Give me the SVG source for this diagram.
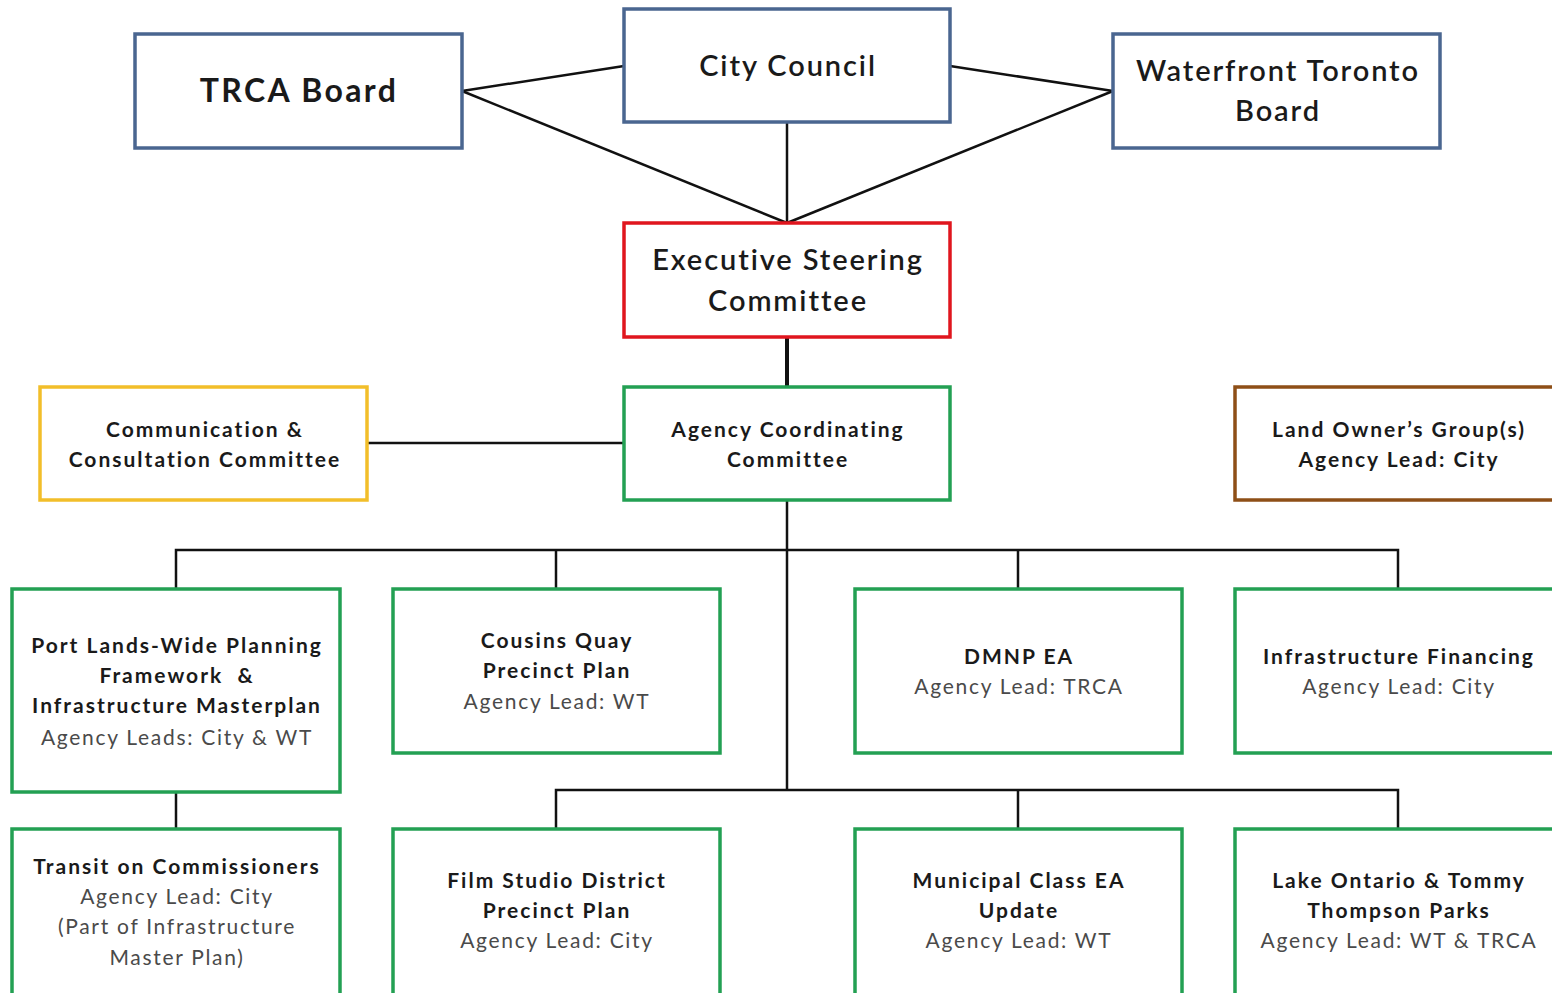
<svg xmlns="http://www.w3.org/2000/svg" width="1552" height="993" viewBox="0 0 1552 993">
<style>
.box{fill:#fff;stroke-width:3.5}
.blue{stroke:#4A6690}
.red{stroke:#E0161E}
.green{stroke:#23A053}
.yellow{stroke:#F2BE2A}
.brown{stroke:#8E4F17}
.conn line,.conn polyline{stroke:#111;stroke-width:2.5;fill:none}
text{font-family:Lato,"Open Sans","Liberation Sans",sans-serif;text-anchor:middle;fill:#1a1a1a}
.big{font-size:32px;font-weight:bold;letter-spacing:2.4px}
.mid{font-size:29px;font-weight:600;letter-spacing:1.9px}
.b{font-size:21px;font-weight:bold;letter-spacing:2px}
.r{font-size:21px;fill:#4a4a4a;letter-spacing:1.7px}
</style>
<rect width="1552" height="993" fill="#fff"/>
<g class="conn">
<line x1="462" y1="91" x2="624" y2="66"/>
<line x1="462" y1="91" x2="787" y2="223"/>
<line x1="950" y1="66" x2="1113" y2="91"/>
<line x1="1113" y1="91" x2="787" y2="223"/>
<line x1="787" y1="122" x2="787" y2="223"/>
<line x1="787" y1="337" x2="787" y2="387" style="stroke-width:4"/>
<line x1="367" y1="443" x2="624" y2="443"/>
<line x1="787" y1="500" x2="787" y2="790"/>
<polyline points="176,589 176,550 1398,550 1398,589"/>
<line x1="556" y1="550" x2="556" y2="589"/>
<line x1="1018" y1="550" x2="1018" y2="589"/>
<polyline points="556,829 556,790 1398,790 1398,829"/>
<line x1="1018" y1="790" x2="1018" y2="829"/>
<line x1="176" y1="792" x2="176" y2="829"/>
</g>
<g id="trca"><rect class="box blue" x="135" y="34" width="327" height="114"/><text class="big" x="299" y="102">TRCA Board</text></g>
<g id="council"><rect class="box blue" x="624" y="9" width="326" height="113"/><text class="mid" x="788" y="76">City Council</text></g>
<g id="wt"><rect class="box blue" x="1113" y="34" width="327" height="114"/><text class="mid" x="1278" y="81">Waterfront Toronto</text><text class="mid" x="1278" y="121">Board</text></g>
<g id="esc"><rect class="box red" x="624" y="223" width="326" height="114"/><text class="mid" x="788" y="270">Executive Steering</text><text class="mid" x="788" y="311">Committee</text></g>
<g id="acc"><rect class="box green" x="624" y="387" width="326" height="113"/><text class="b" x="788" y="437">Agency Coordinating</text><text class="b" x="788" y="467">Committee</text></g>
<g id="comm"><rect class="box yellow" x="40" y="387" width="327" height="113"/><text class="b" x="205" y="437">Communication &amp;</text><text class="b" x="205" y="467">Consultation Committee</text></g>
<g id="landowner"><rect class="box brown" x="1235" y="387" width="330" height="113"/><text class="b" x="1399" y="437">Land Owner’s Group(s)</text><text class="b" x="1399" y="467">Agency Lead: City</text></g>
<g id="portlands"><rect class="box green" x="12" y="589" width="328" height="203"/><text class="b" x="177" y="653">Port Lands-Wide Planning</text><text class="b" x="177" y="683">Framework&#160; &amp;</text><text class="b" x="177" y="713">Infrastructure Masterplan</text><text class="r" x="177" y="745">Agency Leads: City &amp; WT</text></g>
<g id="cousins"><rect class="box green" x="393" y="589" width="327" height="164"/><text class="b" x="557" y="648">Cousins Quay</text><text class="b" x="557" y="678">Precinct Plan</text><text class="r" x="557" y="709">Agency Lead: WT</text></g>
<g id="dmnp"><rect class="box green" x="855" y="589" width="327" height="164"/><text class="b" x="1019" y="664">DMNP EA</text><text class="r" x="1019" y="694">Agency Lead: TRCA</text></g>
<g id="financing"><rect class="box green" x="1235" y="589" width="330" height="164"/><text class="b" x="1399" y="664">Infrastructure Financing</text><text class="r" x="1399" y="694">Agency Lead: City</text></g>
<g id="transit"><rect class="box green" x="12" y="829" width="328" height="180"/><text class="b" x="177" y="874">Transit on Commissioners</text><text class="r" x="177" y="904">Agency Lead: City</text><text class="r" x="177" y="934">(Part of Infrastructure</text><text class="r" x="177" y="965">Master Plan)</text></g>
<g id="film"><rect class="box green" x="393" y="829" width="327" height="180"/><text class="b" x="557" y="888">Film Studio District</text><text class="b" x="557" y="918">Precinct Plan</text><text class="r" x="557" y="948">Agency Lead: City</text></g>
<g id="municipal"><rect class="box green" x="855" y="829" width="327" height="180"/><text class="b" x="1019" y="888">Municipal Class EA</text><text class="b" x="1019" y="918">Update</text><text class="r" x="1019" y="948">Agency Lead: WT</text></g>
<g id="lakeontario"><rect class="box green" x="1235" y="829" width="330" height="180"/><text class="b" x="1399" y="888">Lake Ontario &amp; Tommy</text><text class="b" x="1399" y="918">Thompson Parks</text><text class="r" x="1399" y="948">Agency Lead: WT &amp; TRCA</text></g>
</svg>
